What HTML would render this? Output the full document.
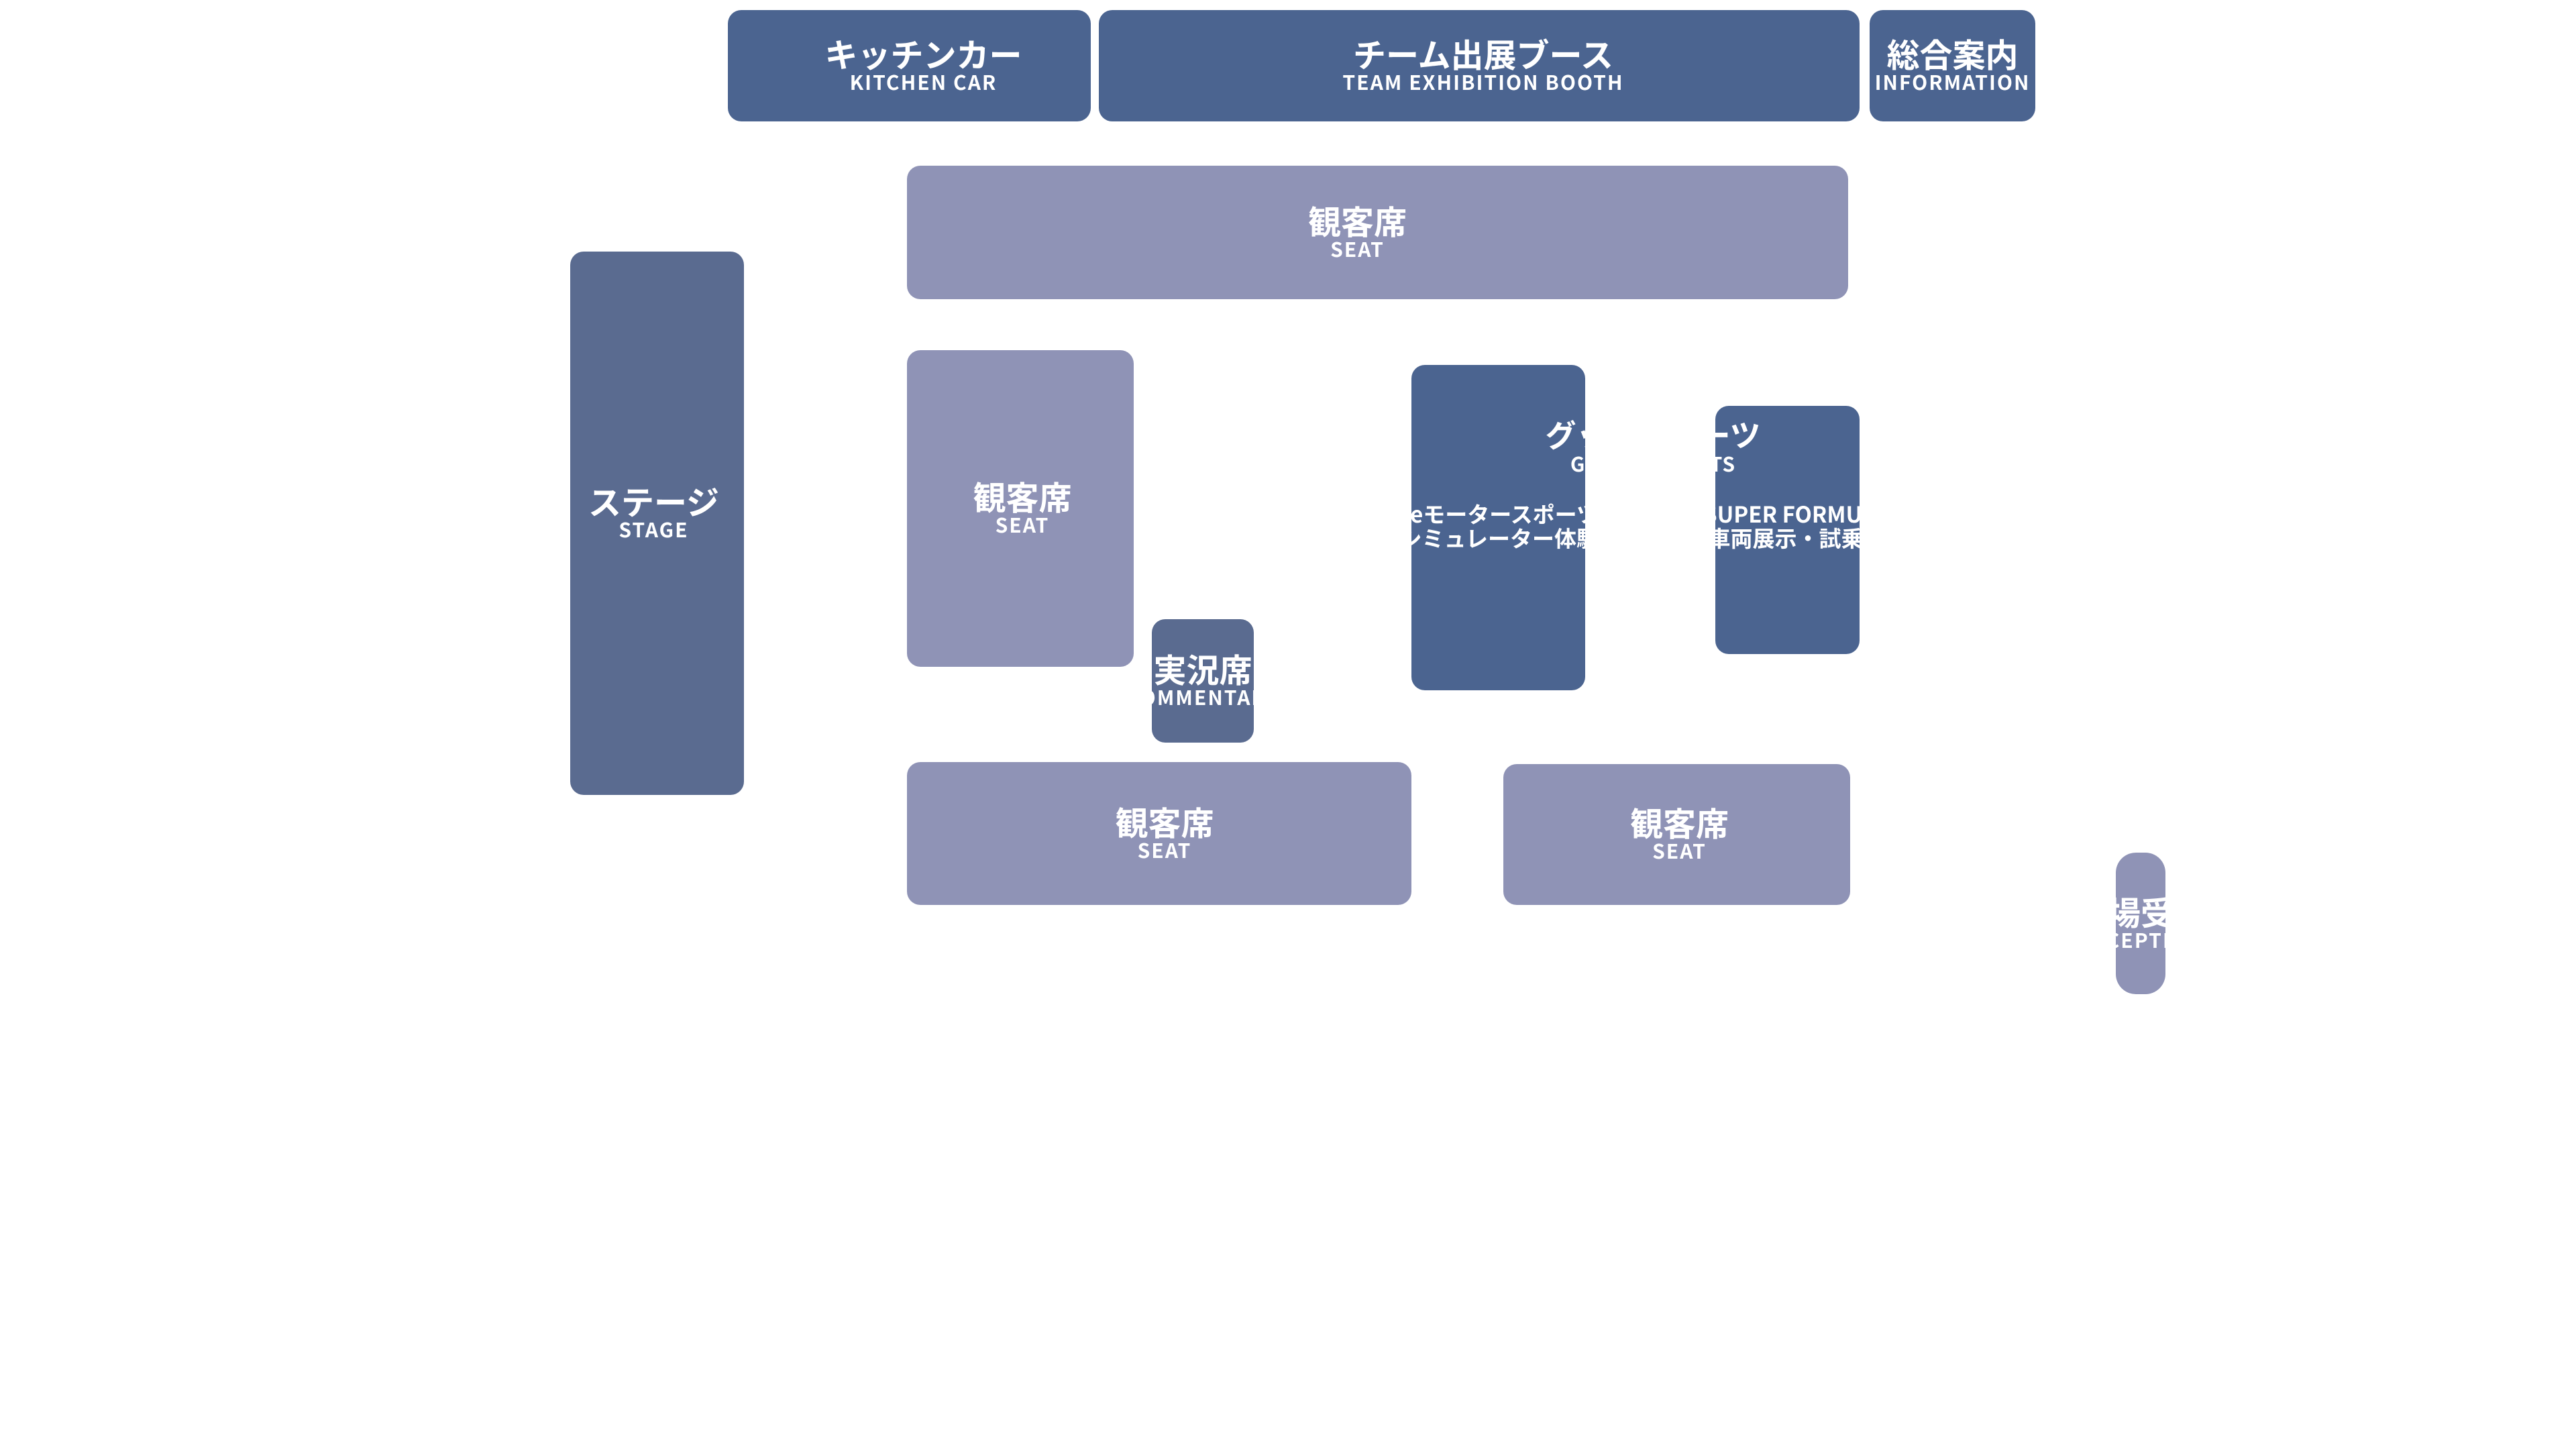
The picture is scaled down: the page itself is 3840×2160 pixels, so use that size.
<!DOCTYPE html>
<html><head><meta charset="utf-8"><style>
html,body{margin:0;padding:0;background:#fff;}
body{width:3840px;height:2160px;position:relative;overflow:hidden;font-family:"Liberation Sans","Noto Sans CJK JP",sans-serif;}
.b{position:absolute;box-sizing:border-box;border-radius:20px;overflow:hidden;color:#fff;display:flex;flex-direction:column;align-items:center;justify-content:center;font-weight:bold;}
.d{background:#4b6490;}
.s{background:#5a6b90;}
.l{background:#8f93b6;}
.t{font-size:49px;line-height:50px;white-space:nowrap;font-family:"Noto Sans CJK JP",sans-serif;font-weight:bold;margin-top:-4px;}
.e{font-size:30px;line-height:32px;white-space:nowrap;letter-spacing:2px;font-family:"Noto Sans CJK JP",sans-serif;font-weight:bold;}
.a{position:absolute;white-space:nowrap;font-family:"Noto Sans CJK JP",sans-serif;font-weight:bold;color:#fff;}
</style></head><body>
<div class="b d" style="left:1085px;top:15px;width:541px;height:166px;padding-left:42px"><div class="t">キッチンカー</div><div class="e">KITCHEN CAR</div></div>
<div class="b d" style="left:1638px;top:15px;width:1134px;height:166px;padding-left:12px"><div class="t">チーム出展ブース</div><div class="e">TEAM EXHIBITION BOOTH</div></div>
<div class="b d" style="left:2787px;top:15px;width:247px;height:166px"><div class="t">総合案内</div><div class="e">INFORMATION</div></div>
<div class="b l" style="left:1352px;top:247px;width:1403px;height:199px;padding-right:60px"><div class="t">観客席</div><div class="e">SEAT</div></div>
<div class="b s" style="left:850px;top:375px;width:259px;height:810px;padding-right:10px;padding-bottom:30px"><div class="t">ステージ</div><div class="e">STAGE</div></div>
<div class="b l" style="left:1352px;top:522px;width:338px;height:472px;padding-left:6px"><div class="t">観客席</div><div class="e">SEAT</div></div>
<div class="b s" style="left:1717px;top:923px;width:152px;height:184px"><div class="t">実況席</div><div class="e">COMMENTARY</div></div>
<div class="b d" style="left:2104px;top:544px;width:259px;height:485px;display:block">
 <div class="a" style="left:360px;top:103px;transform:translate(-50%,-50%);font-size:46px">グッズスイーツ</div>
 <div class="a" style="left:360px;top:146px;transform:translate(-50%,-50%);font-size:30px;letter-spacing:1px">GOODS SWEETS</div>
 <div class="a" style="right:-20px;top:203px;font-size:33px;line-height:36px;text-align:right">eモータースポーツ<br>シミュレーター体験</div>
</div>
<div class="b d" style="left:2557px;top:605px;width:215px;height:370px;display:block">
 <div class="a" style="left:-93px;top:42px;transform:translate(-50%,-50%);font-size:46px">グッズスイーツ</div>
 <div class="a" style="left:-93px;top:85px;transform:translate(-50%,-50%);font-size:30px;letter-spacing:1px">GOODS SWEETS</div>
 <div class="a" style="left:-18px;top:142px;font-size:33px;line-height:36px">SUPER FORMULA<br>&nbsp;車両展示・試乗</div>
</div>
<div class="b l" style="left:1352px;top:1136px;width:752px;height:213px;padding-left:16px"><div class="t">観客席</div><div class="e">SEAT</div></div>
<div class="b l" style="left:2241px;top:1139px;width:517px;height:210px;padding-left:8px"><div class="t">観客席</div><div class="e">SEAT</div></div>
<div class="b l" style="left:3154px;top:1271px;width:74px;height:211px;border-radius:30px"><div class="t">会場受付</div><div class="e">RECEPTION</div></div>
</body></html>
